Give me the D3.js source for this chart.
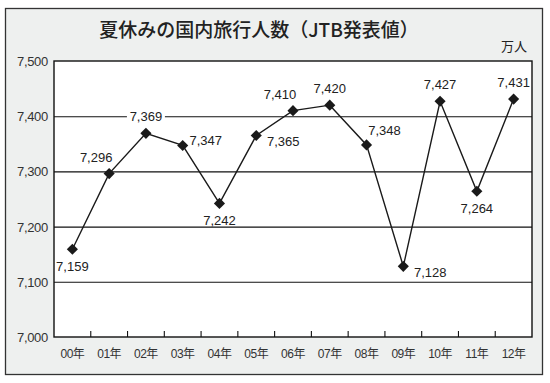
<!DOCTYPE html>
<html>
<head>
<meta charset="utf-8">
<script src="https://cdn.jsdelivr.net/npm/d3@7"></script>
<style>
  body { margin: 0; background: #fff; }
  text { font-family: "Liberation Sans", "Noto Sans CJK JP", sans-serif; }
</style>
</head>
<body>
<svg id="chart" width="550" height="383"></svg>
<script>
// data
const years = ['00年', '01年', '02年', '03年', '04年', '05年', '06年', '07年', '08年', '09年', '10年', '11年', '12年'];
const travelers = [7159, 7296, 7369, 7347, 7242, 7365, 7410, 7420, 7348, 7128, 7427, 7264, 7431];
const yTicks = [7000, 7100, 7200, 7300, 7400, 7500];

// where each value label sits relative to its marker
const labelSide = ['below', 'upLeft', 'up', 'right', 'below', 'rightDown', 'upLeft', 'up', 'upRight', 'rightDown', 'up', 'below', 'up'];
const offsets = {
  below: [0, 17], up: [0, -17], upLeft: [-13, -16], right: [23, -5],
  rightDown: [27, 6], upRight: [18, -14]
};

const svg = d3.select('#chart');
const plot = { left: 54, right: 532, top: 61, bottom: 337 };

// panel background + frame
svg.append('rect').attr('x', 5.5).attr('y', 8.5).attr('width', 537).attr('height', 366)
  .attr('fill', '#eef0ef').attr('stroke', '#333').attr('stroke-width', 1.3);

svg.append('text').attr('x', 259).attr('y', 37).attr('text-anchor', 'middle')
  .style('font-family', '"Noto Sans CJK JP", sans-serif').style('font-size', '19px').style('font-weight', 500)
  .attr('fill', '#222').text('夏休みの国内旅行人数（JTB発表値）');

svg.append('text').attr('x', 527).attr('y', 51).attr('text-anchor', 'end')
  .style('font-family', '"Noto Sans CJK JP", sans-serif').style('font-size', '13px')
  .attr('fill', '#222').text('万人');

const x = d3.scaleBand().domain(years).range([plot.left, plot.right]);
const y = d3.scaleLinear().domain([7000, 7500]).range([plot.bottom, plot.top]);

svg.append('rect').attr('x', plot.left).attr('y', plot.top)
  .attr('width', plot.right - plot.left).attr('height', plot.bottom - plot.top).attr('fill', '#fff');

// gridlines
const grid = svg.append('g').attr('transform', `translate(${plot.left},0)`)
  .call(d3.axisLeft(y).tickValues(yTicks.slice(1, -1)).tickSize(-(plot.right - plot.left)).tickFormat(''));
grid.select('.domain').remove();
grid.selectAll('line').attr('stroke', '#111').attr('stroke-width', 1.1);

// y labels
const yAxis = svg.append('g').attr('transform', `translate(${plot.left - 6},0)`)
  .call(d3.axisLeft(y).tickValues(yTicks).tickSize(0).tickFormat(d3.format(',')));
yAxis.select('.domain').remove();
yAxis.selectAll('text').style('font-size', '13px').attr('fill', '#333').attr('dx', 0).attr('x', 0)
  .attr('dy', '0.35em').style('letter-spacing', '-0.3px');

// x labels
const xAxis = svg.append('g').attr('transform', `translate(0,${plot.bottom})`)
  .call(d3.axisBottom(x).tickSize(0).tickPadding(12));
xAxis.select('.domain').remove();
xAxis.selectAll('text').style('font-size', '12px').attr('fill', '#333').style('letter-spacing', '-0.5px');

// inner tick marks at band boundaries
svg.append('g').selectAll('line').data(years.slice(1)).join('line')
  .attr('x1', d => x(d)).attr('x2', d => x(d))
  .attr('y1', plot.bottom).attr('y2', plot.bottom - 6)
  .attr('stroke', '#111').attr('stroke-width', 1.1);

const cx = d => x(d) + x.bandwidth() / 2;
const pts = years.map((yr, i) => ({ yr, v: travelers[i], side: labelSide[i] }));

// label backing (knocks out gridlines behind the labels)
const fmt = d3.format(',');
svg.append('g').selectAll('rect').data(pts).join('rect')
  .attr('x', d => cx(d.yr) + offsets[d.side][0] - 19)
  .attr('y', d => y(d.v) + offsets[d.side][1] - 5)
  .attr('width', 38).attr('height', 10).attr('fill', '#fff');

// plot frame
svg.append('rect').attr('x', plot.left).attr('y', plot.top)
  .attr('width', plot.right - plot.left).attr('height', plot.bottom - plot.top)
  .attr('fill', 'none').attr('stroke', '#111').attr('stroke-width', 1.4);

// line
svg.append('path').datum(pts)
  .attr('d', d3.line().x(d => cx(d.yr)).y(d => y(d.v)))
  .attr('fill', 'none').attr('stroke', '#1a1a1a').attr('stroke-width', 1.4);

// diamonds
svg.append('g').selectAll('path').data(pts).join('path')
  .attr('transform', d => `translate(${cx(d.yr)},${y(d.v)}) rotate(45)`)
  .attr('d', d3.symbol(d3.symbolSquare, 62))
  .attr('fill', '#1a1a1a');

// value labels
svg.append('g').selectAll('text').data(pts).join('text')
  .attr('x', d => cx(d.yr) + offsets[d.side][0])
  .attr('y', d => y(d.v) + offsets[d.side][1])
  .attr('dy', '0.35em').attr('text-anchor', 'middle')
  .style('font-size', '13px').attr('fill', '#222')
  .text(d => fmt(d.v));
</script>
</body>
</html>
